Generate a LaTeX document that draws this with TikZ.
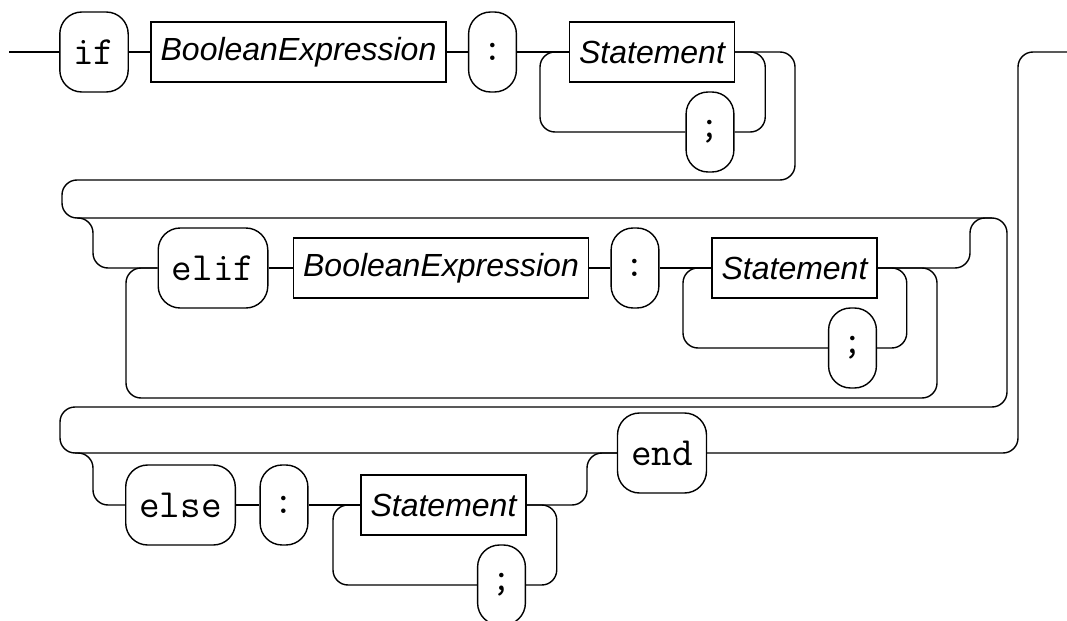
\documentclass[tikz,border=0pt]{standalone}
\usepackage{fontspec}
\setmainfont{Liberation Sans}
\usetikzlibrary{positioning}

\begin{document}
\begin{tikzpicture}[
  x=0.5pt, y=-0.5pt, line width=0.7pt,
  term/.style={draw, rounded corners=11pt, minimum height=40pt, inner xsep=6.8pt, inner ysep=0pt, font=\ttfamily\fontsize{20}{20}\selectfont},
  nonterm/.style={draw, minimum height=30pt, inner xsep=4.8pt, inner ysep=0pt, font=\itshape\fontsize{16}{16}\selectfont},
  rail/.style={rounded corners=7.5pt}
]
\useasboundingbox (0,0) rectangle (1067,621);
\coordinate (start) at (9,52);
\coordinate (exit) at (1067,52);

% if part
\node[term] (ifkw) at (94,52) {if};
\node[nonterm] (bool1) at (298.5,52) {BooleanExpression};
\node[term] (colon1) at (492.5,52) {:};
\node[nonterm] (stmt1) at (652,52) {Statement};
\node[term] (semi1) at (710,132) {;};

% elif part
\node[term] (elifkw) at (213,268) {elif};
\node[nonterm] (bool2) at (441,268) {BooleanExpression};
\node[term] (colon2) at (635,268) {:};
\node[nonterm] (stmt2) at (794.5,268) {Statement};
\node[term] (semi2) at (852.5,348) {;};

% else part
\node[term] (elsekw) at (180.5,505) {else};
\node[term] (colon3) at (284,505) {:};
\node[nonterm] (stmt3) at (443.5,505) {Statement};
\node[term] (semi3) at (501.5,585) {;};
\node[term] (endkw) at (662,453) {end};

\draw[rail] (start) -- (ifkw);
\draw[rail] (ifkw) -- (bool1);
\draw[rail] (bool1) -- (colon1);
\draw[rail] (colon1) -- (stmt1);
\draw[rail] (stmt1.east) -- ++(30,0) |- (semi1.east);
\draw[rail] (semi1.west) -| (540,52) -- (stmt1.west);

% main line wrapping over the rows
\draw[rail] (stmt1.east) -| (795,180) -| (62,218) -| (1007,407) -| (60,453) -- (endkw.west);

\draw[rail] (77,218) -| (93,268) -- (elifkw.west);
\draw[rail] (elifkw) -- (bool2);
\draw[rail] (bool2) -- (colon2);
\draw[rail] (colon2) -- (stmt2);
\draw[rail] (stmt2.east) -- ++(29,0) |- (semi2.east);
\draw[rail] (semi2.west) -| (683,268) -- (stmt2.west);
\draw[rail] (stmt2.east) -| (970,218) -- (992,218);
\draw[rail] (stmt2.east) -| (937,398) -| (126,268) -- (elifkw.west);

\draw[rail] (75,453) -| (93,505) -- (elsekw.west);
\draw[rail] (elsekw) -- (colon3);
\draw[rail] (colon3) -- (stmt3);
\draw[rail] (stmt3.east) -- ++(30,0) |- (semi3.east);
\draw[rail] (semi3.west) -| (333,505) -- (stmt3.west);
\draw[rail] (stmt3.east) -| (587,453) -- (endkw.west);
\draw[rail] (endkw.east) -| (1018,52) -- (exit);
\end{tikzpicture}
\end{document}
